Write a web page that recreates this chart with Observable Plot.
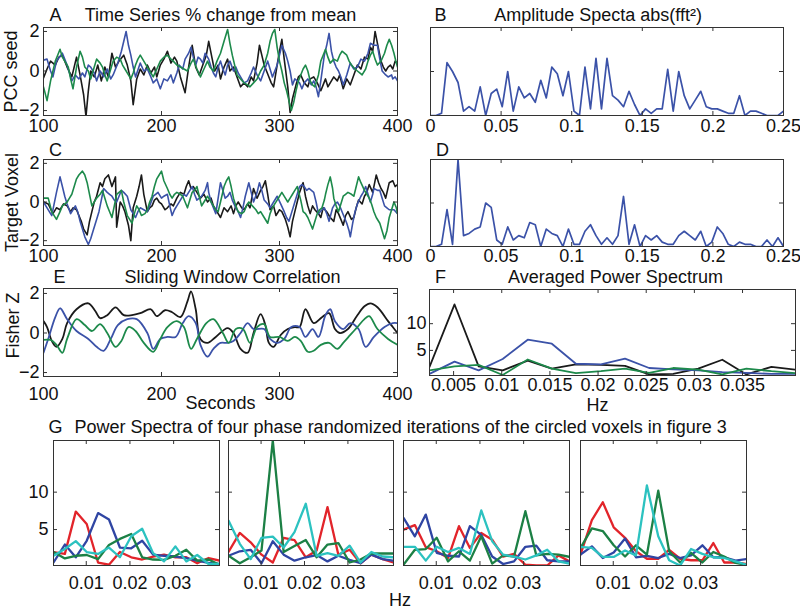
<!DOCTYPE html>
<html><head><meta charset="utf-8">
<script src="https://cdn.jsdelivr.net/npm/d3@7"></script>
<script src="https://cdn.jsdelivr.net/npm/@observablehq/plot@0.6"></script>
<style>
body{margin:0;background:#fff;}
#fig{position:relative;width:800px;height:609px;overflow:hidden;background:#fff;}
.panel{position:absolute;}
</style></head><body><div id="fig"></div>
<script>
// ---------- DATA ----------
// Panel A: PCC seed time series [seconds, % change]
const aBlack = [[100,-0.35],[103,0.1],[106,0.5],[110,0.3],[113,0.7],[116,0.8],[120,0.2],[124,-0.3],[128,0.7],[131,-0.2],[134,-1.2],[136,-2.3],[138,-1.0],[140,0.0],[143,-0.3],[146,0.3],[149,-0.5],[152,0.2],[155,-0.3],[158,0.9],[161,0.2],[164,0.5],[168,0.8],[171,0.3],[174,-0.5],[176,-1.7],[179,-0.4],[182,0.1],[185,-0.2],[188,0.3],[191,-0.1],[194,0.2],[196,-0.3],[199,0.3],[202,0.6],[205,1.0],[208,0.4],[211,0.7],[213,0.5],[216,-0.3],[220,-1.1],[223,0.2],[226,1.3],[229,0.2],[232,-0.2],[235,0.3],[238,0.8],[240,1.5],[243,0.6],[245,0.0],[248,0.3],[250,-0.4],[253,0.2],[256,0.6],[258,0.0],[261,0.2],[264,-0.3],[267,-0.8],[270,-0.6],[273,-0.8],[276,-0.3],[278,-0.5],[281,0.4],[283,1.3],[285,0.8],[287,0.3],[289,0.0],[291,-0.3],[293,-0.6],[295,-0.8],[298,0.3],[300,1.0],[302,1.6],[304,0.6],[307,-0.8],[309,-2.1],[311,-1.4],[314,-0.7],[316,-0.3],[318,-0.2],[321,-0.6],[324,-0.8],[326,-0.4],[329,-0.3],[332,-0.6],[335,-1.0],[337,-0.7],[339,-0.4],[341,-0.8],[343,-0.6],[346,-0.3],[349,-0.5],[351,-0.2],[354,-0.9],[357,-0.4],[360,-0.7],[363,-0.2],[366,0.3],[369,0.1],[372,0.7],[375,0.6],[377,1.2],[379,1.0],[381,2.0],[383,1.4],[386,0.5],[388,0.2],[390,0.0],[392,0.2],[394,0.3],[396,0.1],[398,0.5],[400,0.4]];
const aBlue = [[100,0.55],[103,0.6],[106,0.0],[108,-0.3],[111,0.5],[116,0.9],[120,0.3],[124,-0.5],[127,-0.2],[130,-0.4],[133,-0.1],[135,-0.3],[138,0.3],[140,0.2],[143,-0.1],[145,-0.5],[148,0.0],[151,-0.3],[154,0.1],[157,-0.4],[159,-0.2],[163,0.4],[166,1.0],[170,2.0],[172,1.3],[174,0.8],[176,0.2],[178,-0.3],[182,0.4],[185,0.0],[188,0.1],[191,-0.3],[193,-0.6],[196,-0.4],[199,-0.9],[202,-0.4],[205,-0.5],[208,-0.2],[210,-0.6],[213,-0.1],[215,0.3],[218,0.1],[220,0.6],[223,0.9],[225,1.2],[227,0.7],[229,0.3],[231,0.7],[233,0.6],[235,0.4],[237,0.9],[240,0.6],[242,0.2],[244,-0.1],[246,-0.3],[248,0.2],[250,0.5],[252,0.1],[254,-0.2],[256,0.3],[258,0.5],[261,0.0],[263,0.2],[265,-0.1],[267,-0.3],[270,-0.6],[273,-0.5],[276,-0.1],[278,0.2],[281,-0.2],[284,-0.5],[287,0.0],[290,0.5],[292,0.1],[294,-0.3],[296,0.0],[298,0.3],[300,0.8],[302,1.3],[305,0.9],[307,0.5],[309,0.0],[311,-0.7],[313,-0.4],[315,-0.5],[317,-0.6],[319,-0.9],[321,-0.6],[324,-0.4],[327,-0.7],[329,-0.5],[331,-0.8],[333,-1.3],[335,-0.5],[338,0.8],[340,1.3],[342,1.9],[344,1.0],[346,0.5],[348,0.2],[350,0.0],[352,-0.3],[354,-0.7],[357,-0.2],[360,0.4],[363,0.1],[366,0.2],[369,0.6],[372,0.5],[375,0.9],[377,1.4],[380,1.3],[383,1.3],[385,0.6],[387,0.0],[390,-0.2],[392,-0.3],[395,-0.2],[396,-0.4],[398,-0.3],[400,-0.5]];
const aGreen = [[100,-0.8],[103,-1.5],[106,-0.5],[108,0.0],[110,0.5],[112,0.8],[114,1.1],[116,0.7],[118,0.5],[121,0.2],[123,-0.4],[125,-0.9],[128,0.2],[131,1.0],[133,0.7],[135,0.2],[138,0.0],[140,-0.4],[143,0.2],[145,0.6],[148,0.4],[150,0.2],[152,-0.2],[154,-0.5],[157,0.1],[159,0.5],[162,0.7],[165,0.6],[167,0.3],[169,0.1],[172,-0.2],[174,-0.4],[176,-0.1],[178,0.3],[180,0.6],[182,0.8],[185,0.5],[188,0.2],[190,0.0],[193,-0.3],[196,0.1],[199,0.5],[202,0.7],[205,0.8],[208,0.6],[210,0.5],[213,0.3],[216,0.2],[219,0.1],[222,0.0],[225,0.4],[227,0.6],[230,0.1],[233,-0.3],[236,0.1],[239,0.5],[241,0.2],[244,0.0],[247,0.5],[250,0.9],[253,1.5],[256,2.1],[258,1.4],[260,0.8],[262,0.3],[264,-0.2],[267,-0.4],[270,-0.6],[273,-0.7],[275,-0.8],[278,-0.6],[281,-0.4],[284,0.0],[287,0.3],[290,0.9],[292,1.5],[294,1.9],[296,2.1],[298,1.2],[300,0.5],[302,0.0],[304,-0.6],[306,-1.0],[308,-1.5],[310,-2.0],[312,-1.6],[314,-1.0],[316,-0.5],[318,-0.2],[320,0.1],[322,0.3],[324,0.0],[326,-0.5],[328,-0.7],[330,-0.8],[333,-0.2],[335,0.5],[337,0.8],[339,1.1],[341,0.7],[343,0.4],[346,0.6],[349,0.5],[351,0.8],[353,1.0],[355,0.9],[357,0.8],[359,0.5],[361,0.3],[364,0.1],[366,0.0],[368,-0.1],[370,-0.2],[373,0.1],[375,0.5],[377,0.8],[379,1.0],[381,0.6],[383,0.3],[386,0.5],[389,0.9],[391,1.3],[393,1.6],[395,1.3],[397,0.9],[399,0.4],[400,0.2]];

// Panel C: target voxel time series
const cBlack = [[100,0.0],[104,-0.1],[108,-0.6],[111,-0.3],[114,-0.4],[117,-0.1],[120,-0.2],[123,-0.5],[125,-0.3],[128,-0.4],[130,-0.7],[132,-1.0],[134,-1.4],[137,-1.7],[139,-1.0],[141,-0.5],[143,0.0],[145,0.3],[148,1.0],[150,0.8],[152,1.2],[155,1.4],[158,0.8],[161,1.3],[162,-1.3],[165,0.0],[167,-0.2],[169,-0.5],[172,-1.2],[174,-2.0],[176,-0.3],[179,0.3],[181,0.8],[183,1.4],[185,0.4],[188,-0.5],[190,-0.3],[192,-0.2],[194,0.1],[196,0.2],[198,0.0],[200,-0.1],[203,-0.4],[205,-0.3],[208,-0.1],[210,-0.2],[213,0.2],[216,0.5],[219,0.4],[221,0.8],[223,1.1],[225,0.7],[227,0.8],[230,0.5],[233,0.2],[236,0.4],[239,0.0],[242,0.2],[244,-0.2],[247,-0.5],[250,-0.8],[253,-0.3],[256,-0.5],[259,-0.2],[261,-0.6],[263,-0.2],[265,0.0],[268,-0.3],[270,-0.4],[273,-0.1],[275,-0.3],[278,0.7],[281,0.2],[284,0.6],[286,0.8],[288,1.1],[290,0.4],[292,-0.4],[295,-0.2],[297,-0.7],[300,-0.4],[302,-0.5],[305,-0.9],[307,-1.3],[309,-1.8],[311,-1.0],[313,-0.5],[315,0.0],[317,0.5],[320,1.0],[322,0.3],[324,-0.2],[326,-0.6],[328,-0.2],[330,-0.4],[333,-0.6],[335,-0.8],[337,-0.3],[340,-0.5],[343,-0.8],[346,-1.0],[348,-0.4],[350,-0.6],[352,-0.9],[354,-1.2],[356,-0.7],[358,-0.5],[361,-0.9],[363,-0.8],[365,-0.3],[367,0.1],[370,-0.1],[372,0.3],[374,0.5],[376,0.9],[379,0.5],[382,1.4],[384,1.0],[386,0.7],[388,0.5],[390,0.2],[393,1.0],[396,1.1],[398,0.8],[400,0.9]];
const cBlue = [[100,0.0],[103,-0.3],[107,-0.7],[109,-0.1],[111,0.5],[114,1.3],[116,0.8],[118,0.3],[120,-0.1],[123,-0.6],[125,-0.4],[127,-0.2],[129,-0.5],[131,-1.0],[133,-1.4],[135,-1.8],[138,-2.2],[140,-1.9],[142,-1.5],[145,-0.9],[147,-0.5],[149,0.1],[151,0.7],[154,0.5],[156,0.4],[158,0.3],[160,0.1],[162,0.0],[164,0.3],[166,0.6],[168,0.5],[171,0.3],[174,-0.4],[176,-0.6],[178,-0.8],[180,-0.5],[182,-0.3],[185,-0.4],[188,-0.5],[190,-0.2],[193,0.3],[195,0.4],[197,0.5],[200,0.2],[202,0.3],[205,0.4],[207,-0.2],[209,-0.7],[211,-0.4],[213,-0.2],[216,0.1],[219,0.4],[221,0.3],[223,0.5],[226,0.8],[228,0.4],[230,0.1],[232,0.2],[234,0.3],[237,0.6],[239,1.0],[240,0.5],[242,0.0],[244,-0.3],[246,-0.6],[248,0.2],[250,1.0],[252,0.6],[254,0.2],[256,0.3],[258,0.5],[260,0.1],[263,-0.3],[265,-0.5],[267,-0.8],[269,-0.3],[271,0.3],[274,1.0],[276,0.5],[278,0.0],[281,0.5],[283,1.0],[285,0.6],[287,0.1],[290,-0.1],[292,-0.3],[295,0.0],[298,0.3],[301,-0.1],[304,-0.5],[306,-0.8],[308,-1.0],[310,-0.6],[313,0.0],[315,0.4],[317,0.8],[319,0.9],[321,0.8],[323,0.6],[325,0.7],[327,0.6],[329,0.5],[331,0.0],[333,-0.6],[336,-0.4],[338,-0.3],[340,-0.6],[342,-1.0],[345,-0.3],[347,-0.1],[349,0.0],[351,-0.2],[353,-0.5],[355,-0.8],[357,-1.1],[359,-1.5],[360,-1.8],[362,-1.1],[364,-0.5],[366,-0.1],[369,0.3],[371,0.5],[373,0.8],[375,0.4],[377,0.0],[379,0.4],[380,0.7],[383,0.6],[385,0.6],[387,0.2],[389,-0.2],[391,-0.3],[393,-0.4],[395,-0.4],[397,-0.4],[400,-0.6]];
const cGreen = [[100,0.2],[104,0.2],[107,-0.5],[109,-0.7],[111,-0.9],[114,-0.5],[116,-0.2],[118,-0.1],[120,0.0],[122,0.2],[124,0.4],[126,0.8],[128,1.2],[130,1.4],[133,1.6],[135,1.4],[137,1.0],[139,0.4],[141,-0.2],[143,0.0],[145,0.2],[148,0.4],[150,0.6],[152,0.2],[154,-0.2],[156,-0.5],[158,-0.8],[160,-0.2],[162,0.4],[164,0.5],[166,0.6],[168,0.0],[171,-0.7],[173,-0.9],[175,-1.1],[177,-0.6],[179,-0.2],[181,-0.4],[183,-0.7],[186,-0.6],[188,-0.4],[190,0.0],[192,0.3],[194,0.8],[196,1.2],[198,1.4],[200,1.6],[202,1.1],[205,0.7],[207,0.4],[209,0.2],[211,0.4],[213,0.5],[216,0.4],[218,0.3],[220,0.0],[222,-0.3],[224,0.1],[226,0.5],[228,0.6],[230,0.8],[232,0.3],[234,-0.2],[236,0.0],[239,0.3],[241,0.1],[244,-0.2],[246,-0.4],[248,-0.5],[250,0.0],[253,0.8],[255,1.1],[257,1.3],[259,0.8],[261,0.2],[263,-0.2],[265,-0.5],[268,-0.6],[270,-0.5],[272,-0.2],[274,0.0],[277,-0.2],[280,-0.4],[282,-0.6],[284,-0.5],[287,-0.8],[290,-1.1],[292,-0.6],[294,-0.3],[296,-0.1],[298,0.1],[300,0.3],[302,0.5],[305,0.2],[307,0.0],[309,0.2],[311,0.4],[313,0.6],[315,0.8],[318,0.1],[320,-0.5],[322,-0.6],[324,-0.8],[326,-1.1],[328,-1.4],[330,-1.0],[332,-0.6],[334,-0.4],[336,-0.3],[338,0.1],[339,0.4],[341,0.9],[343,1.3],[345,0.7],[346,0.2],[348,-0.2],[350,-0.5],[352,-0.1],[354,0.3],[356,0.4],[358,0.5],[361,0.4],[363,0.3],[365,0.8],[367,1.3],[369,1.0],[372,0.6],[374,0.4],[376,0.2],[378,-0.1],[380,-0.5],[382,-0.8],[385,-1.1],[387,-1.5],[389,-1.9],[391,-1.5],[393,-0.8],[395,-0.4],[397,0.0],[399,-0.3],[400,-0.6]];

// Panel E: sliding window correlation (Fisher Z)
const eBlack = [[100,0.6],[103,0.3],[107,-0.4],[111,-0.7],[116,-0.3],[120,0.5],[128,1.2],[138,1.5],[144,1.1],[148,0.75],[154,0.9],[161,1.3],[168,0.9],[175,0.9],[182,1.0],[191,1.2],[196,0.85],[203,1.15],[209,1.05],[216,0.8],[222,1.6],[225,2.1],[229,1.2],[233,-0.3],[239,-0.5],[246,-0.2],[256,0.25],[261,0.0],[267,-0.8],[273,-1.0],[278,0.0],[284,0.95],[288,0.4],[291,-0.5],[295,-0.7],[301,-0.1],[307,0.2],[313,0.3],[317,0.3],[322,1.2],[329,0.5],[336,0.8],[342,1.0],[347,0.2],[351,0.0],[358,0.2],[366,0.9],[372,1.35],[377,1.5],[383,1.3],[392,0.6],[396,0.3],[400,0.0]];
const eBlue = [[100,-1.0],[104,-0.3],[110,0.8],[114,1.25],[120,0.7],[128,0.1],[138,-0.3],[145,-0.7],[151,-0.9],[157,-0.3],[163,0.4],[171,0.7],[179,0.7],[188,0.0],[193,-0.8],[199,-0.3],[205,-0.2],[212,-0.2],[218,0.5],[223,0.85],[229,0.5],[233,-0.6],[239,-1.2],[244,-0.8],[250,-0.5],[256,-0.5],[261,-0.4],[267,0.0],[273,0.5],[278,0.2],[287,0.2],[292,-0.3],[298,-0.5],[304,-0.3],[310,0.3],[317,0.3],[322,-0.2],[328,0.2],[333,-0.2],[339,0.9],[343,1.2],[347,0.6],[354,0.2],[360,0.5],[367,0.2],[373,-0.7],[380,-0.2],[389,0.3],[396,0.5],[400,0.5]];
const eGreen = [[100,-0.35],[106,-0.35],[111,-0.6],[116,-1.0],[120,-0.3],[128,0.7],[135,0.4],[141,0.1],[148,0.45],[154,0.0],[161,-0.7],[166,-0.4],[172,0.3],[178,0.1],[185,-0.5],[193,-0.95],[199,-0.3],[205,0.3],[213,0.6],[219,0.3],[225,-0.8],[230,-0.3],[238,0.5],[244,0.7],[252,0.0],[257,-0.5],[263,0.2],[269,0.2],[275,-0.5],[281,0.3],[287,0.45],[292,-0.2],[300,-0.2],[307,-0.4],[313,-0.2],[318,-0.4],[324,-0.95],[329,-0.9],[335,-0.6],[342,-0.5],[349,-0.8],[354,-0.5],[360,-0.1],[366,0.3],[372,0.7],[376,0.85],[383,0.2],[392,-0.3],[400,-0.6]];

// Panels B, D: amplitude spectra (0 .. 0.25 Hz)
const specHz = [0,0.0039,0.0078,0.0117,0.0156,0.0195,0.0234,0.0273,0.0313,0.0352,0.0391,0.043,0.0469,0.0508,0.0547,0.0586,0.0625,0.0664,0.0703,0.0742,0.0781,0.082,0.0859,0.0898,0.0938,0.0977,0.1016,0.1055,0.1094,0.1133,0.1172,0.1211,0.125,0.1289,0.1328,0.1367,0.1406,0.1445,0.1484,0.1523,0.1563,0.1602,0.1641,0.168,0.1719,0.1758,0.1797,0.1836,0.1875,0.1914,0.1953,0.1992,0.2031,0.207,0.2109,0.2148,0.2188,0.2227,0.2266,0.2305,0.2344,0.2383,0.2422,0.2461,0.25];
const bSeed = [0,0,0.05,1.2,1.0,0.75,0.1,0.2,0.1,0.65,0.0,0.5,0.6,0.2,1.0,0.1,0.65,0.4,0.5,0.3,0.8,0.4,1.1,0.95,0.45,1.0,0.1,0.0,1.1,0.15,1.3,0.15,1.3,0.45,0.35,0.2,0.55,0.25,0.0,0.15,0.05,0.15,0.15,1.05,0.1,1.0,0.45,0.15,0.35,0.55,0.2,0.15,0.15,0.1,0.05,0.05,0.45,0.0,0.1,0.1,0.05,0.0,0.0,0.0,0.1];
const dTarget = [0.0,0.0,0.05,0.85,0.05,2.0,0.25,0.3,0.4,0.45,1.0,0.9,0.15,0.05,0.45,0.15,0.25,0.2,0.55,0.5,0.0,0.4,0.3,0.25,0.0,0.4,0.05,0.05,0.35,0.5,0.25,0.05,0.2,0.05,0.25,1.15,0.05,0.5,0.0,0.25,0.15,0.25,0.1,0.05,0.05,0.25,0.35,0.25,0.15,0.35,0.0,0.1,0.45,0.3,0.05,0.0,0.1,0.05,0.05,0.0,0.0,0.15,0.0,0.2,0.0];

// Panels F, G: low-frequency power spectra
const lowHz = [0.0025,0.0051,0.0076,0.0101,0.0127,0.0152,0.0177,0.0203,0.0228,0.0253,0.0278,0.0304,0.0329,0.0354,0.038,0.0405];
const fBlack = [1.9,13.6,2.0,1.25,3.1,1.6,2.4,2.3,2.1,0.5,0.6,1.6,3.25,0.5,1.9,1.4];
const fBlue  = [0.6,2.9,1.25,3.4,7.0,6.25,2.5,2.4,3.45,1.7,1.45,1.25,0.95,0.8,0.6,0.6];
const fGreen = [1.25,2.0,2.3,0.4,3.3,1.6,0.75,1.1,1.6,0.8,1.7,1.4,0.5,1.6,1.1,0.75];

const g1Red   = [2.0,1.75,7.4,5.75,0.6,0.3,2.0,1.3,1.0,1.4,1.65,1.3,1.3,0.5,1.2,0.85];
const g1Blue  = [0.6,3.0,1.3,3.5,7.2,6.35,2.6,2.5,3.5,1.65,1.5,1.4,1.2,0.85,0.55,0.4];
const g1Green = [2.0,1.15,1.5,1.6,1.05,2.95,3.75,4.4,1.3,1.0,0.95,1.5,2.3,0.85,1.0,0.3];
const g1Cyan  = [1.5,2.4,3.45,2.0,1.75,2.6,1.3,4.1,5.1,1.85,0.75,2.75,0.75,1.6,0.4,0.4];

const g2Red   = [2.0,4.55,3.3,1.65,0.6,3.9,3.6,1.3,2.2,8.0,1.65,2.3,0.5,1.65,1.05,0.6];
const g2Blue  = [1.5,2.1,2.3,0.5,3.45,1.65,0.85,1.3,1.6,0.75,1.5,0.95,0.5,1.65,1.05,0.85];
const g2Green = [1.5,0.5,1.3,2.2,16.9,2.0,2.8,3.6,1.3,3.0,3.2,0.6,1.0,1.8,1.8,1.8];
const g2Cyan  = [6.2,3.1,1.05,3.9,4.05,2.6,4.65,8.45,1.5,1.85,1.5,2.85,0.6,2.0,1.4,1.3];

const g3Red   = [5.0,5.6,2.65,2.1,1.2,5.45,2.55,4.55,3.65,1.4,1.75,0.3,0.2,0.2,1.55,0.75];
const g3Blue  = [6.55,4.1,7.0,1.9,1.5,1.4,5.45,4.3,1.4,0.4,0.75,2.7,2.85,0.9,0.75,0.75];
const g3Green = [0.3,2.3,2.4,3.9,0.75,2.1,0.85,4.1,0.45,1.55,1.4,7.45,1.55,1.75,1.65,1.35];
const g3Cyan  = [2.7,2.7,0.85,2.7,2.0,2.55,1.75,7.55,3.45,1.65,1.4,1.0,1.55,2.3,0.75,0.45];

const g4Red   = [1.65,6.25,8.65,5.3,3.9,2.1,1.1,1.1,2.3,1.1,0.9,0.9,3.2,0.6,0.6,0.4];
const g4Blue  = [1.65,2.75,1.2,1.95,3.8,1.3,1.5,1.2,1.75,1.2,1.55,2.9,1.3,1.3,0.85,1.05];
const g4Green = [2.55,5.15,4.8,2.9,1.4,2.9,1.65,10.2,2.1,0.6,1.9,0.6,2.0,1.4,0.55,0.3];
const g4Cyan  = [2.7,2.55,1.35,1.35,2.2,1.55,10.9,4.1,0.9,0.2,2.4,1.75,1.3,1.2,0.75,0.3];

// tick values
const timeTicks = [100,200,300,400];
const zTicks = [-2,0,2];
const specTicks = [0,0.05,0.1,0.15,0.2,0.25];
const specYTicks = [0,1,2];
const fTicks = [0.005,0.01,0.015,0.02,0.025,0.03,0.035];
const gTicks = [0.01,0.02,0.03];
const powTicks = [5,10];

// ---------- DRAWING ----------
const FONT = '"Liberation Sans", Arial, Helvetica, sans-serif';
const COL = {black:"#1a1a1a", blue:"#3b52a8", green:"#1d8a4b",
             gRed:"#e2242a", gBlue:"#2f45a3", gGreen:"#1c8045", gCyan:"#2cc2c0"};
const FC = "#333";
const PAD = {l:60, t:45, r:30, b:50};
const fig = document.getElementById("fig");
const pair = (xs, ys) => xs.map((x, i) => [x, ys[i]]);
const fmt = d => String(d).replace("-", "\u2212");

function panel(rect, cfg) {
  const [x0, y0, x1, y1] = rect;
  const w = x1 - x0, h = y1 - y0, TL = 4;
  const W = w + PAD.l + PAD.r, H = h + PAD.t + PAD.b;
  const marks = [];
  for (const s of cfg.series) {
    marks.push(Plot.line(s.data, {x: d => d[0], y: d => d[1], stroke: s.color,
      strokeWidth: cfg.lw, curve: cfg.curve || "linear", clip: true}));
  }
  marks.push(Plot.frame({stroke: FC, strokeWidth: 1}));
  marks.push(Plot.tickX(cfg.xTicks, {x: d => d, insetTop: h - TL, stroke: FC}));
  marks.push(Plot.tickX(cfg.xTicks, {x: d => d, insetBottom: h - TL, stroke: FC}));
  marks.push(Plot.tickY(cfg.yTicks, {y: d => d, insetRight: w - TL, stroke: FC}));
  marks.push(Plot.tickY(cfg.yTicks, {y: d => d, insetLeft: w - TL, stroke: FC}));
  if (cfg.xLabels) marks.push(Plot.axisX(cfg.xTicks, {anchor: "bottom", tickSize: 0,
    tickPadding: cfg.xPad, tickFormat: fmt, label: null, fontSize: 18, fill: "#111"}));
  if (cfg.yLabels) marks.push(Plot.axisY(cfg.yTicks, {anchor: "left", tickSize: 0,
    tickPadding: cfg.yPad, tickFormat: fmt, label: null, fontSize: 18, fill: "#111"}));
  for (const t of cfg.texts || []) {
    marks.push(Plot.text([t.text], {text: d => d, frameAnchor: t.anchor, dx: t.dx || 0, dy: t.dy || 0,
      textAnchor: t.ta || "middle", lineAnchor: "middle", rotate: t.rotate || 0,
      fontSize: 18, fill: "#111"}));
  }
  const svg = Plot.plot({
    width: W, height: H,
    marginLeft: PAD.l, marginTop: PAD.t, marginRight: PAD.r, marginBottom: PAD.b,
    x: {domain: cfg.xDomain, axis: null},
    y: {domain: cfg.yDomain, axis: null},
    style: {fontFamily: FONT, fontSize: "18px", background: "transparent", overflow: "visible", color: "#111"},
    marks
  });
  const div = document.createElement("div");
  div.className = "panel";
  div.style.left = (x0 - PAD.l) + "px";
  div.style.top = (y0 - PAD.t) + "px";
  div.style.width = W + "px";
  div.style.height = H + "px";
  div.append(svg);
  fig.append(div);
}

const tsCfg = {xDomain: [100, 400], xTicks: timeTicks, yTicks: zTicks, xLabels: true, yLabels: true, xPad: 4, yPad: 4, lw: 1.6};

panel([43, 27, 397, 115], {...tsCfg, yDomain: [-2.25, 2.2],
  series: [{data: aBlack, color: COL.black}, {data: aBlue, color: COL.blue}, {data: aGreen, color: COL.green}],
  texts: [{text: "A", anchor: "top-left", dx: 12, dy: -12},
          {text: "Time Series % change from mean", anchor: "top", dy: -12},
          {text: "PCC seed", anchor: "left", dx: -32, rotate: -90}]});

panel([430, 27, 783, 115], {xDomain: [0, 0.25], yDomain: [0, 2], xTicks: specTicks, yTicks: specYTicks,
  xLabels: true, yLabels: false, xPad: 4, lw: 1.7,
  series: [{data: pair(specHz, bSeed), color: COL.blue}],
  texts: [{text: "B", anchor: "top-left", dx: 10, dy: -12},
          {text: "Amplitude Specta abs(fft\u00B2)", anchor: "top", dx: -9, dy: -12}]});

panel([43, 159, 397, 245], {...tsCfg, yDomain: [-2.25, 2.2],
  series: [{data: cBlack, color: COL.black}, {data: cBlue, color: COL.blue}, {data: cGreen, color: COL.green}],
  texts: [{text: "C", anchor: "top-left", dx: 12, dy: -9},
          {text: "Target Voxel", anchor: "left", dx: -31, rotate: -90}]});

panel([430, 159, 783, 246], {xDomain: [0, 0.25], yDomain: [0, 2], xTicks: specTicks, yTicks: specYTicks,
  xLabels: true, yLabels: false, xPad: 3, lw: 1.7,
  series: [{data: pair(specHz, dTarget), color: COL.blue}],
  texts: [{text: "D", anchor: "top-left", dx: 12, dy: -9}]});

panel([43, 288, 397, 376], {...tsCfg, yDomain: [-2.2, 2.25], xPad: 11, curve: "catmull-rom", lw: 1.8,
  series: [{data: eBlack, color: COL.black}, {data: eBlue, color: COL.blue}, {data: eGreen, color: COL.green}],
  texts: [{text: "E", anchor: "top-left", dx: 16, dy: -11},
          {text: "Sliding Window Correlation", anchor: "top", dx: 12, dy: -11},
          {text: "Fisher Z", anchor: "left", dx: -30, dy: -7, rotate: -90},
          {text: "Seconds", anchor: "bottom", dy: 27}]});

panel([429, 289, 795, 375], {xDomain: [0.0025, 0.0405], yDomain: [0.3, 16.4], xTicks: fTicks, yTicks: powTicks,
  xLabels: true, yLabels: true, xPad: 3, yPad: 3, lw: 1.8,
  series: [{data: pair(lowHz, fBlack), color: COL.black}, {data: pair(lowHz, fBlue), color: COL.blue}, {data: pair(lowHz, fGreen), color: COL.green}],
  texts: [{text: "F", anchor: "top-left", dx: 11, dy: -12},
          {text: "Averaged Power Spectrum", anchor: "top", dx: 3, dy: -12},
          {text: "Hz", anchor: "bottom", dx: -15, dy: 30}]});

const gCfg = {xDomain: [0.0025, 0.0405], yDomain: [0.2, 16.9], xTicks: gTicks, yTicks: powTicks,
  xLabels: true, xPad: 11, yPad: 5, lw: 2.3};
const gSeries = (r, b, g, c) => [
  {data: pair(lowHz, r), color: COL.gRed}, {data: pair(lowHz, b), color: COL.gBlue},
  {data: pair(lowHz, g), color: COL.gGreen}, {data: pair(lowHz, c), color: COL.gCyan}];

panel([53, 440, 219, 565], {...gCfg, yLabels: true, series: gSeries(g1Red, g1Blue, g1Green, g1Cyan),
  texts: [{text: "G", anchor: "top-left", dx: 2, dy: -13},
          {text: "Power Spectra of four phase randomized iterations of the circled voxels in figure 3", anchor: "top-left", dx: 21, dy: -13, ta: "start"}]});
panel([228, 440, 393, 565], {...gCfg, yLabels: false, series: gSeries(g2Red, g2Blue, g2Green, g2Cyan),
  texts: [{text: "Hz", anchor: "bottom", dx: 89, dy: 35}]});
panel([403, 440, 569, 565], {...gCfg, yLabels: false, series: gSeries(g3Red, g3Blue, g3Green, g3Cyan)});
panel([580, 440, 746, 565], {...gCfg, yLabels: false, series: gSeries(g4Red, g4Blue, g4Green, g4Cyan)});
</script>
</body></html>
